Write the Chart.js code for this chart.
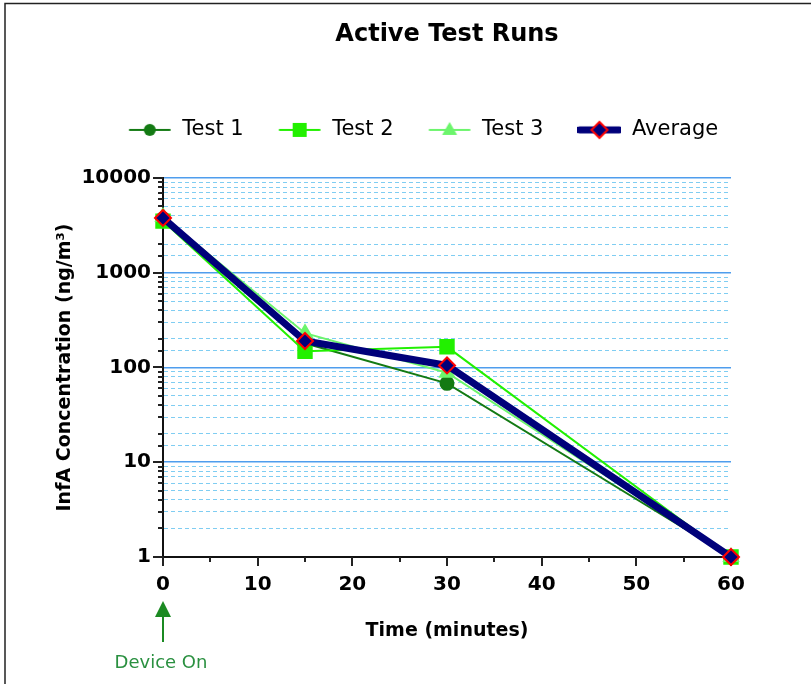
<!DOCTYPE html>
<html>
<head>
<meta charset="utf-8">
<script src="https://cdn.jsdelivr.net/npm/chart.js@4"></script>
<style>
  body { margin: 0; background: #fff; }
  #wrap { width: 811px; height: 684px; position: relative; }
</style>
</head>
<body>
<div id="wrap"><canvas id="runsChart"></canvas></div>
<script>
// data
const times = [0, 15, 30, 60];
const test1 = [3700, 180, 68, 1];
const test2 = [3500, 148, 165, 1];
const test3 = [3900, 230, 88, 1];
const average = [3780, 190, 105, 1];
const seriesLabels = ['Test 1', 'Test 2', 'Test 3', 'Average'];
const xTickValues = [0, 10, 20, 30, 40, 50, 60];
const yTickValues = [1, 10, 100, 1000, 10000];

const FONT = '"DejaVu Sans", sans-serif';

function toPoints(vals) {
    return times.map((t, i) => ({ x: t, y: vals[i] }));
}

// little line+marker images for the legend
function legendIcon(color, width, marker) {
    const c = document.createElement('canvas');
    c.width = 44; c.height = 20;
    const g = c.getContext('2d');
    g.strokeStyle = color;
    g.lineWidth = width;
    g.lineCap = 'round';
    g.beginPath(); g.moveTo(2, 10); g.lineTo(42, 10); g.stroke();
    g.fillStyle = color;
    g.beginPath();
    if (marker === 'circle') {
        g.arc(22, 10, 6, 0, Math.PI * 2); g.fill();
    } else if (marker === 'rect') {
        g.fillRect(15, 3, 14, 14);
    } else if (marker === 'triangle') {
        g.moveTo(22, 2); g.lineTo(29.5, 15); g.lineTo(14.5, 15); g.closePath(); g.fill();
    } else {
        g.moveTo(22, 2); g.lineTo(30, 10); g.lineTo(22, 18); g.lineTo(14, 10); g.closePath();
        g.fillStyle = '#00007a'; g.fill();
        g.strokeStyle = '#ff0000'; g.lineWidth = 2; g.stroke();
    }
    return c;
}

const legendIcons = [
    legendIcon('#137a13', 2, 'circle'),
    legendIcon('#22f000', 2, 'rect'),
    legendIcon('#6cf56c', 2, 'triangle'),
    legendIcon('#00007a', 7, 'diamond')
];

const axisTicks = {
    id: 'axisTicks',
    beforeDatasetsDraw(chart) {
        const { ctx, chartArea, scales: { x, y } } = chart;
        ctx.save();
        ctx.strokeStyle = '#222';
        ctx.lineWidth = 2;
        y.ticks.forEach(t => {
            const py = Math.round(y.getPixelForValue(t.value));
            const len = yTickValues.includes(t.value) ? 10 : 5;
            ctx.beginPath();
            ctx.moveTo(chartArea.left - len, py);
            ctx.lineTo(chartArea.left, py);
            ctx.stroke();
        });
        x.ticks.forEach(t => {
            const px = Math.round(x.getPixelForValue(t.value));
            const len = xTickValues.includes(t.value) ? 9 : 5;
            ctx.beginPath();
            ctx.moveTo(px, chartArea.bottom);
            ctx.lineTo(px, chartArea.bottom + len);
            ctx.stroke();
        });
        ctx.restore();
    }
};

const frameAndNote = {
    id: 'frameAndNote',
    beforeDraw(chart) {
        const { ctx, width, height } = chart;
        ctx.save();
        ctx.strokeStyle = '#222';
        ctx.lineWidth = 1.5;
        ctx.beginPath();
        ctx.moveTo(5, height); ctx.lineTo(5, 3.5); ctx.lineTo(width, 3.5);
        ctx.stroke();
        ctx.restore();
    },
    afterDraw(chart) {
        const { ctx, chartArea, scales: { x } } = chart;
        const px = x.getPixelForValue(0);
        const tip = chartArea.bottom + 44;
        ctx.save();
        ctx.fillStyle = '#1b8a22';
        ctx.strokeStyle = '#1b8a22';
        ctx.beginPath();
        ctx.moveTo(px, tip);
        ctx.lineTo(px - 8, tip + 16);
        ctx.lineTo(px + 8, tip + 16);
        ctx.closePath();
        ctx.fill();
        ctx.lineWidth = 2;
        ctx.beginPath();
        ctx.moveTo(px, tip + 14);
        ctx.lineTo(px, tip + 41);
        ctx.stroke();
        ctx.fillStyle = '#2a9040';
        ctx.font = '18px ' + FONT;
        ctx.textAlign = 'center';
        ctx.textBaseline = 'middle';
        ctx.fillText('Device On', px - 2, tip + 62);
        ctx.restore();
    }
};

const isMajor = c => c.tick && yTickValues.includes(c.tick.value);

new Chart(document.getElementById('runsChart'), {
    type: 'line',
    data: {
        datasets: [
            {
                label: seriesLabels[0], data: toPoints(test1),
                borderColor: '#137a13', backgroundColor: '#137a13', borderWidth: 2,
                pointStyle: 'circle', pointRadius: 6.5, order: 3
            },
            {
                label: seriesLabels[1], data: toPoints(test2),
                borderColor: '#22f000', backgroundColor: '#22f000', borderWidth: 2,
                pointStyle: 'rect', pointRadius: 9.5, order: 2
            },
            {
                label: seriesLabels[2], data: toPoints(test3),
                borderColor: '#6cf56c', backgroundColor: '#6cf56c', borderWidth: 2,
                pointStyle: 'triangle', pointRadius: 8, order: 1
            },
            {
                label: seriesLabels[3], data: toPoints(average),
                borderColor: '#00007a', backgroundColor: '#00007a', borderWidth: 7,
                pointStyle: 'rectRot', pointRadius: 8,
                pointBorderColor: '#ff0000', pointBorderWidth: 2, order: 0
            }
        ]
    },
    options: {
        responsive: true,
        maintainAspectRatio: false,
        animation: false,
        clip: false,
        layout: { padding: { left: 35, right: 0, top: 0, bottom: 0 } },
        elements: { line: { tension: 0 }, point: { hoverRadius: 8 } },
        plugins: {
            tooltip: { enabled: false },
            title: {
                display: true,
                text: 'Active Test Runs',
                fullSize: false,
                color: '#000',
                font: { family: FONT, size: 24, weight: 'bold' },
                padding: { top: 20.6, bottom: 36 }
            },
            subtitle: {
                display: true,
                text: '',
                weight: 500,
                font: { size: 10, lineHeight: 1 },
                padding: { top: 17.5, bottom: 0 }
            },
            legend: {
                position: 'top',
                labels: {
                    usePointStyle: true,
                    pointStyleWidth: 44,
                    padding: 34,
                    color: '#000',
                    font: { family: FONT, size: 21 },
                    generateLabels: (chart) => chart.data.datasets.map((ds, i) => ({
                        text: ds.label,
                        pointStyle: legendIcons[i],
                        rotation: 0,
                        datasetIndex: i,
                        hidden: false,
                        lineWidth: 0,
                        fontColor: '#000'
                    }))
                }
            }
        },
        scales: {
            x: {
                type: 'linear',
                min: 0,
                max: 60,
                grid: { display: false, drawTicks: false },
                border: { display: true, color: '#111', width: 2 },
                ticks: {
                    stepSize: 5,
                    autoSkip: false,
                    maxRotation: 0,
                    padding: 16,
                    color: '#000',
                    font: { family: FONT, size: 20, weight: 'bold' },
                    callback: v => xTickValues.includes(v) ? String(v) : ''
                },
                title: {
                    display: true,
                    text: 'Time (minutes)',
                    color: '#000',
                    font: { family: FONT, size: 19, weight: 'bold' },
                    padding: { top: 8, bottom: 41.6 }
                },
                afterFit: s => { s.height = 127; }
            },
            y: {
                type: 'logarithmic',
                min: 1,
                max: 10000,
                grid: {
                    drawTicks: false,
                    color: c => isMajor(c) ? '#4f9ded' : '#7fcdf2',
                    lineWidth: c => isMajor(c) ? 1.5 : 1
                },
                border: {
                    display: true, color: '#111', width: 2,
                    dash: c => (c.tick && !yTickValues.includes(c.tick.value)) ? [4, 3] : []
                },
                ticks: {
                    autoSkip: false,
                    padding: 12,
                    color: '#000',
                    font: { family: FONT, size: 20, weight: 'bold' },
                    callback: v => yTickValues.includes(v) ? String(v) : ''
                },
                title: {
                    display: true,
                    text: 'InfA Concentration (ng/m³)',
                    color: '#000',
                    font: { family: FONT, size: 19, weight: 'bold' },
                    padding: { top: 18.6, bottom: 0 }
                },
                afterFit: s => { s.width = 128; }
            },
            yPad: {
                type: 'linear',
                position: 'right',
                display: true,
                grid: { display: false, drawTicks: false },
                border: { display: false },
                ticks: { display: false },
                afterFit: s => { s.width = 80; }
            }
        }
    },
    plugins: [axisTicks, frameAndNote]
});
</script>
</body>
</html>
